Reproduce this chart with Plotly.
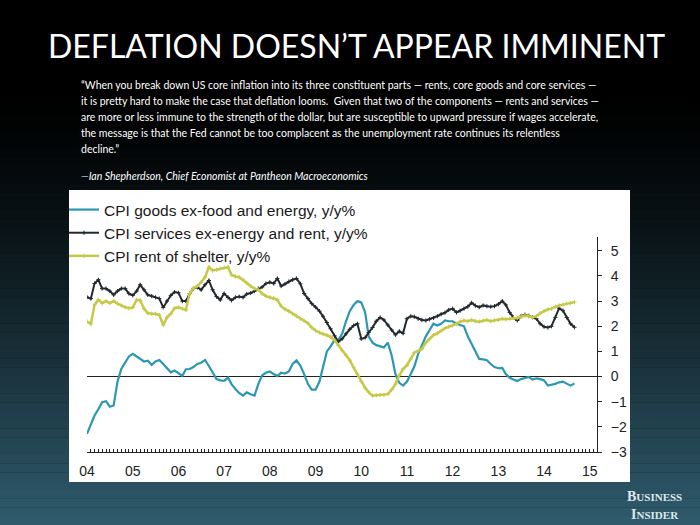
import plotly.graph_objects as go
import pandas as pd

# ---------------- data (monthly, Jan 2004 - Sep 2014) ----------------
dates = pd.date_range("2004-01-01", periods=129, freq="MS")

goods = [
    -2.28, -1.9, -1.55, -1.3, -1.02, -0.98, -1.2, -1.15, -0.2, 0.3, 0.55, 0.8,
    0.9, 0.8, 0.7, 0.6, 0.63, 0.46, 0.6, 0.66, 0.5, 0.35, 0.17, 0.24,
    0.15, 0.03, 0.29, 0.3, 0.38, 0.5, 0.55, 0.66, 0.42, 0.15, -0.1, -0.15,
    -0.17, -0.04, -0.3, -0.5, -0.65, -0.76, -0.63, -0.7, -0.76, -0.3, 0.05, 0.15,
    0.2, 0.1, 0.02, 0.15, 0.12, 0.2, 0.5, 0.64, 0.44, 0.1, -0.3, -0.52,
    -0.52, -0.2, 0.4, 1.0, 1.2, 1.45, 1.45, 1.7, 2.2, 2.6, 2.85, 3.0,
    2.95, 2.55, 1.6, 1.35, 1.25, 1.2, 1.16, 1.35, 0.84, 0.1, -0.25, -0.36,
    -0.2, 0.1, 0.4, 0.9, 1.25, 1.6, 1.85, 2.1, 2.03, 2.1, 2.23, 2.2,
    2.2, 2.1, 2.05, 2.0, 1.6, 1.3, 1.05, 0.7, 0.68, 0.65, 0.5, 0.38,
    0.33, 0.34, 0.1, -0.05, -0.12, -0.18, -0.1, -0.05, -0.02, -0.12, -0.07, -0.1,
    -0.15, -0.36, -0.33, -0.29, -0.23, -0.2, -0.28, -0.36, -0.27,
]

services = [
    3.16, 3.1, 3.7, 3.85, 3.5, 3.5, 3.4, 3.25, 3.4, 3.5, 3.5, 3.3,
    3.23, 3.4, 3.65, 3.45, 3.25, 3.2, 3.15, 3.1, 2.75, 3.0, 3.23, 3.36,
    3.33, 3.0, 3.0, 3.3, 3.5, 3.55, 3.45, 3.65, 3.82, 3.45, 3.18, 3.05,
    3.3, 3.15, 3.03, 3.15, 3.18, 3.15, 3.28, 3.32, 3.4, 3.5, 3.56, 3.7,
    3.75, 3.7, 3.9, 3.6, 3.68, 3.78, 3.85, 3.9, 3.69, 3.3, 3.1, 2.9,
    2.76, 2.6, 2.4, 2.15, 1.9, 1.62, 1.38, 1.5, 1.7, 1.88, 2.03, 2.1,
    1.5, 1.55, 1.75, 1.95, 2.2, 2.35, 2.25, 2.05, 1.85, 1.66, 1.8, 1.72,
    2.3, 2.4, 2.38, 2.3, 2.25, 2.23, 2.28, 2.33, 2.4, 2.48, 2.54, 2.65,
    2.7, 2.55, 2.62, 2.7, 2.78, 2.93, 2.82, 2.76, 2.83, 2.8, 2.78, 2.8,
    2.88, 3.0, 2.85, 2.55, 2.35, 2.23, 2.4, 2.46, 2.42, 2.36, 2.3, 2.1,
    1.98, 1.95, 2.0, 2.35, 2.72, 2.62, 2.35, 2.1, 1.96,
]

rent = [
    2.19, 2.1, 2.85, 3.05, 2.92, 3.0, 2.92, 3.0, 2.9, 2.82, 2.76, 2.72,
    2.75, 3.05, 3.03, 2.7, 2.52, 2.5, 2.5, 2.45, 2.05, 2.35, 2.5, 2.72,
    2.75, 2.7, 2.65, 3.3, 3.52, 3.6, 3.75, 3.95, 4.35, 4.22, 4.25, 4.3,
    4.33, 4.35, 4.05, 3.98, 3.95, 3.85, 3.72, 3.6, 3.5, 3.45, 3.3, 3.2,
    3.15, 3.12, 3.05, 2.8, 2.68, 2.6, 2.5, 2.4, 2.3, 2.22, 2.12, 1.95,
    1.83, 1.75, 1.7, 1.65, 1.58, 1.45, 1.25, 1.03, 0.85, 0.65, 0.35, 0.1,
    -0.2, -0.45, -0.62, -0.76, -0.74, -0.73, -0.73, -0.7, -0.52, -0.3, 0.05, 0.3,
    0.45, 0.7, 0.95, 1.02, 1.1, 1.35, 1.5, 1.65, 1.72, 1.82, 1.92, 1.98,
    2.03, 2.1, 2.18, 2.23, 2.2, 2.25, 2.2, 2.18, 2.22, 2.25, 2.2, 2.23,
    2.25, 2.3, 2.28, 2.3, 2.33, 2.33, 2.38, 2.43, 2.4, 2.35, 2.4, 2.52,
    2.6, 2.67, 2.7, 2.78, 2.83, 2.86, 2.9, 2.92, 2.96,
]

series_names = [
    "CPI goods ex-food and energy, y/y%",
    "CPI services ex-energy and rent, y/y%",
    "CPI rent of shelter, y/y%",
]
y_ticks = [-3, -2, -1, 0, 1, 2, 3, 4, 5]
title_text = "DEFLATION DOESN\u2019T APPEAR IMMINENT"
quote_lines = [
    "\u201cWhen you break down US core inflation into its three constituent parts \u2014 rents, core goods and core services \u2014",
    "it is pretty hard to make the case that deflation looms.  Given that two of the components \u2014 rents and services \u2014",
    "are more or less immune to the strength of the dollar, but are susceptible to upward pressure if wages accelerate,",
    "the message is that the Fed cannot be too complacent as the unemployment rate continues its relentless",
    "decline.\u201d",
]
attribution = "\u2014Ian Shepherdson, Chief Economist at Pantheon Macroeconomics"

# ---------------- layout geometry ----------------
W, H = 700, 525
L, R, T, B = 87, 103, 237, 73
PW, PH = W - L - R, H - T - B


def px_x(px):
    return (px - L) / PW


def px_y(py):
    return (H - B - py) / PH


fig = go.Figure()

fig.add_trace(go.Scatter(
    x=dates, y=goods, name=series_names[0], mode="lines",
    line=dict(color="#2b97b3", width=2.2),
))
fig.add_trace(go.Scatter(
    x=dates, y=services, name=series_names[1], mode="lines+markers",
    line=dict(color="#232a2f", width=2),
    marker=dict(symbol="cross-thin", size=3, line=dict(width=1, color="#232a2f")),
))
fig.add_trace(go.Scatter(
    x=dates, y=rent, name=series_names[2], mode="lines+markers",
    line=dict(color="#c6c948", width=2.5),
    marker=dict(symbol="cross-thin", size=3, line=dict(width=1, color="#c6c948")),
))

# background gradient (black top -> dark teal bottom)
shapes = []
n = 60
top_c = (0, 0, 0)
bot_c = (48, 92, 110)
for i in range(n):
    y0 = H * i / n
    y1 = H * (i + 1) / n
    t = (i + 0.5) / n
    f = max(0.0, (t - 0.18) / 0.82) ** 1.3
    c = tuple(int(top_c[k] + (bot_c[k] - top_c[k]) * f) for k in range(3))
    shapes.append(dict(
        type="rect", xref="paper", yref="paper", layer="below",
        x0=px_x(0), x1=px_x(W), y0=px_y(y1), y1=px_y(y0) + 0.001,
        fillcolor="rgb(%d,%d,%d)" % c, line=dict(width=0),
    ))
# white chart panel
shapes.append(dict(
    type="rect", xref="paper", yref="paper", layer="below",
    x0=px_x(69), x1=px_x(630), y0=px_y(482), y1=px_y(190),
    fillcolor="white", line=dict(width=0),
))

annotations = [
    dict(text=title_text, x=px_x(356), y=px_y(45), xref="paper", yref="paper",
         xanchor="center", yanchor="middle", showarrow=False,
         font=dict(family="Lato", size=32, color="white")),
]
for i, line in enumerate(quote_lines):
    annotations.append(dict(
        text=line, x=px_x(79), y=px_y(85 + 16.1 * i), xref="paper", yref="paper",
        xanchor="left", yanchor="middle", showarrow=False,
        font=dict(family="Lato", size=10.5, color="white")))
annotations.append(dict(
    text="<i>" + attribution + "</i>", x=px_x(79), y=px_y(176), xref="paper", yref="paper",
    xanchor="left", yanchor="middle", showarrow=False,
    font=dict(family="Lato", size=10.5, color="white")))
annotations.append(dict(
    text="<b>B<span style='font-size:11px'>USINESS</span><br>I<span style='font-size:11px'>NSIDER</span></b>",
    x=px_x(654), y=px_y(505), xref="paper", yref="paper",
    xanchor="center", yanchor="middle", showarrow=False, align="center",
    font=dict(family="Liberation Serif", size=14, color="#dfe8eb")))

fig.update_layout(
    width=W, height=H,
    margin=dict(l=L, r=R, t=T, b=B, pad=0),
    paper_bgcolor="black", plot_bgcolor="white",
    shapes=shapes, annotations=annotations,
    showlegend=True,
    legend=dict(x=px_x(64), y=px_y(193), xanchor="left", yanchor="top",
                bgcolor="rgba(0,0,0,0)", itemwidth=30, tracegroupgap=0,
                font=dict(family="Liberation Sans", size=15.5, color="#1a1a1a")),
    xaxis=dict(
        range=["2004-01-01", "2015-02-28"], type="date",
        tick0="2004-01-01", dtick="M12", tickformat="%y",
        ticks="inside", ticklen=3, tickcolor="#222",
        minor=dict(dtick="M1", ticks="inside", ticklen=3, tickcolor="#222"),
        showline=True, linecolor="#222", linewidth=1,
        showgrid=False, zeroline=False,
        tickfont=dict(family="Liberation Sans", size=14, color="#222"),
        ticklabelstandoff=6,
    ),
    yaxis=dict(
        range=[-3, 5.55], side="right", tickvals=y_ticks,
        ticks="outside", ticklen=4, tickcolor="#222",
        showline=True, linecolor="#222", linewidth=1,
        showgrid=False, zeroline=True, zerolinecolor="#222", zerolinewidth=1.2,
        tickfont=dict(family="Liberation Sans", size=14, color="#222"),
        ticklabelstandoff=6,
    ),
)

fig.write_html(
    "out.html",
    config={"displayModeBar": False},
    post_script="document.body.style.margin='0';document.body.style.padding='0';"
                "document.body.style.background='black';",
)
